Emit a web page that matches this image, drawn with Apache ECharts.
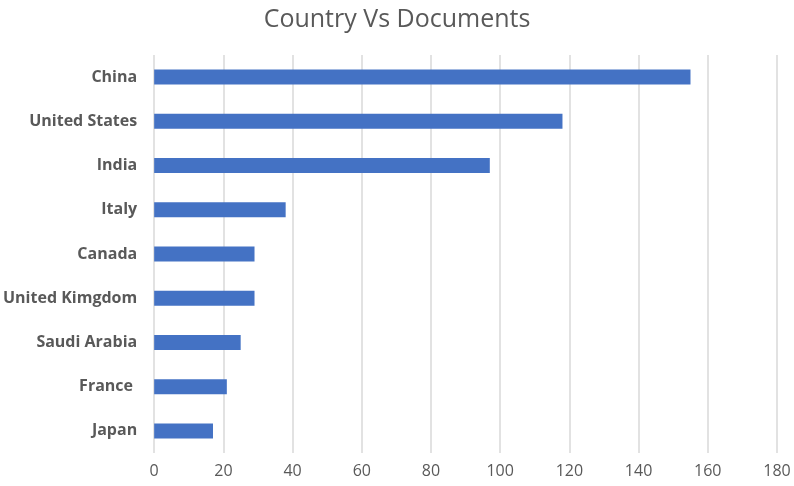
<!DOCTYPE html>
<html>
<head>
<meta charset="utf-8">
<script src="https://cdn.jsdelivr.net/npm/echarts@6/dist/echarts.min.js"></script>
<style>html,body{margin:0;padding:0;background:#fff}#c{width:794px;height:486px}</style>
</head>
<body>
<div id="c"></div>
<script>
const categories = ["China", "United States", "India", "Italy", "Canada", "United Kimgdom", "Saudi Arabia", "France ", "Japan"];
const documents = [155, 118, 97, 38, 29, 29, 25, 21, 17];
const xTicks = {min: 0, max: 180, interval: 20};

const chart = echarts.init(document.getElementById('c'), null, {renderer: 'canvas'});
chart.setOption({
  animation: false,
  backgroundColor: '#ffffff',
  title: {
    text: 'Country Vs Documents',
    left: 'center',
    top: 2,
    textStyle: {fontFamily: 'Open Sans', fontWeight: 'normal', fontSize: 25, color: '#595959'}
  },
  grid: {left: 154, right: 17, top: 55, bottom: 33, containLabel: false},
  xAxis: {
    type: 'value',
    min: xTicks.min, max: xTicks.max, interval: xTicks.interval,
    axisLine: {show: false},
    axisTick: {show: false},
    axisLabel: {margin: 10, fontFamily: 'Open Sans', fontSize: 16, color: '#595959'},
    splitLine: {show: true, lineStyle: {color: '#d9d9d9', width: 1.5}}
  },
  yAxis: {
    type: 'category',
    data: categories,
    inverse: true,
    axisLine: {show: false},
    axisTick: {show: false},
    axisLabel: {margin: 17, fontFamily: 'Open Sans', fontWeight: 'bold', fontSize: 16, color: '#595959'}
  },
  series: [{
    type: 'bar',
    data: documents,
    barWidth: 15,
    itemStyle: {color: '#4472c4'}
  }]
});
</script>
</body>
</html>
